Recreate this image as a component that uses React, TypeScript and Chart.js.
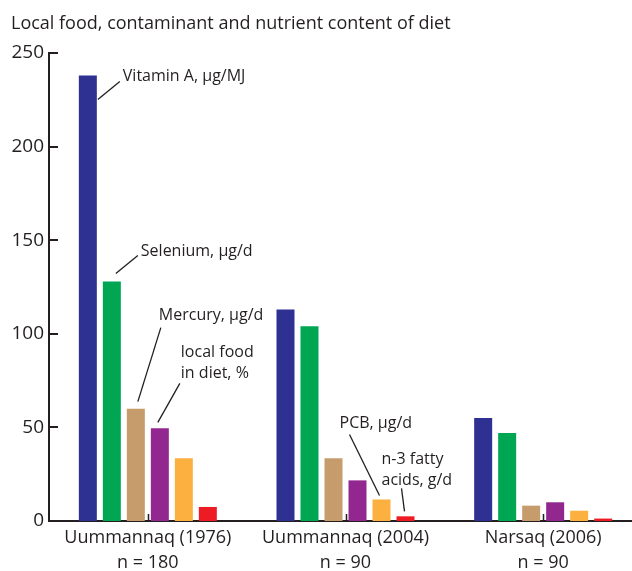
import { useEffect, useRef } from "react";
import { Chart, registerables } from "chart.js";

Chart.register(...registerables);

// ---- data ----
const categories: string[][] = [
  ["Uummannaq (1976)", "n = 180"],
  ["Uummannaq (2004)", "n = 90"],
  ["Narsaq (2006)", "n = 90"],
];
const seriesNames = [
  "Vitamin A, µg/MJ",
  "Selenium, µg/d",
  "Mercury, µg/d",
  "local food in diet, %",
  "PCB, µg/d",
  "n-3 fatty acids, g/d",
];
const vitaminA = [238, 113, 55];
const selenium = [128, 104, 47];
const mercury = [60, 33.5, 8.2];
const localFood = [49.5, 21.7, 10];
const pcb = [33.5, 11.5, 5.5];
const n3Fatty = [7.5, 2.5, 1.3];
const yTickValues = [0, 50, 100, 150, 200, 250];
const titleText = "Local food, contaminant and nutrient content of diet";

// ---- styles ----
const seriesColors = ["#2E3192", "#00A651", "#C69C6D", "#92278F", "#FBB040", "#ED1C24"];
const ink = "#231F20";
const fontFamily = "'Open Sans', 'Noto Sans', sans-serif";

// annotation callouts: anchored to a bar (dataset, category), offsets relative to bar centre/top
const callouts = [
  { ds: 0, cat: 0, lines: ["Vitamin A, µg/MJ"], from: [10, 24], to: [32, 6], text: [35, 1] },
  { ds: 1, cat: 0, lines: ["Selenium, µg/d"], from: [4, -8], to: [26, -26], text: [29, -30] },
  { ds: 2, cat: 0, lines: ["Mercury, µg/d"], from: [2, -7], to: [25, -81], text: [23, -93] },
  { ds: 3, cat: 0, lines: ["local food", "in diet, %"], from: [-2, -6], to: [20, -45], text: [21, -76] },
  { ds: 4, cat: 1, lines: ["PCB, µg/d"], from: [-2, -4], to: [-32, -65], text: [-42, -76] },
  { ds: 5, cat: 1, lines: ["n-3 fatty", "acids, g/d"], from: [-1, -5], to: [-4, -28], text: [-24, -57] },
];

const axisDecor = {
  id: "axisDecor",
  afterDraw(chart: any) {
    const ctx = chart.ctx;
    const area = chart.chartArea;
    const y = chart.scales.y;
    const x = chart.scales.x;
    ctx.save();
    ctx.strokeStyle = ink;
    ctx.lineWidth = 2;
    ctx.beginPath();
    y.ticks.forEach((t: any) => {
      const py = Math.round(y.getPixelForValue(t.value));
      if (t.value === 0) return;
      ctx.moveTo(area.left, py);
      ctx.lineTo(area.left + 9, py);
    });
    ctx.stroke();
    ctx.lineWidth = 1.5;
    ctx.beginPath();
    x.ticks.forEach((_t: any, i: number) => {
      const px = Math.round(x.getPixelForTick(i)) + 0.5;
      ctx.moveTo(px, area.bottom);
      ctx.lineTo(px, area.bottom - 7);
    });
    ctx.stroke();
    ctx.restore();
  },
};

const calloutPlugin = {
  id: "callouts",
  afterDatasetsDraw(chart: any) {
    const ctx = chart.ctx;
    ctx.save();
    ctx.strokeStyle = ink;
    ctx.fillStyle = ink;
    ctx.lineWidth = 1.3;
    ctx.font = `16px ${fontFamily}`;
    ctx.textBaseline = "middle";
    ctx.textAlign = "left";
    callouts.forEach((c) => {
      const bar = chart.getDatasetMeta(c.ds).data[c.cat];
      const bx = bar.x;
      const by = bar.y;
      ctx.beginPath();
      ctx.moveTo(bx + c.from[0], by + c.from[1]);
      ctx.lineTo(bx + c.to[0], by + c.to[1]);
      ctx.stroke();
      c.lines.forEach((ln, i) => {
        ctx.fillText(ln, bx + c.text[0], by + c.text[1] + i * 21);
      });
    });
    ctx.restore();
  },
};

export default function App() {
  const ref = useRef<HTMLCanvasElement | null>(null);

  useEffect(() => {
    if (!ref.current) return;
    const dataArrays = [vitaminA, selenium, mercury, localFood, pcb, n3Fatty];
    const chart = new Chart(ref.current, {
      type: "bar",
      data: {
        labels: categories,
        datasets: seriesNames.map((name, i) => ({
          label: name,
          data: dataArrays[i],
          backgroundColor: seriesColors[i],
          borderWidth: 0,
          categoryPercentage: 0.7285,
          barPercentage: 0.75,
        })),
      },
      options: {
        responsive: false,
        animation: false,
        layout: { padding: { left: 11, right: 0, top: 0, bottom: 0 } },
        plugins: {
          legend: { display: false },
          tooltip: { enabled: false },
          title: {
            display: true,
            text: titleText,
            align: "start",
            color: ink,
            font: { family: fontFamily, size: 18, weight: "normal", lineHeight: 1.2 },
            padding: { top: 13, bottom: 18.4 },
          },
        },
        scales: {
          x: {
            type: "category",
            offset: true,
            grid: { display: true, drawOnChartArea: false, drawTicks: false, lineWidth: 0 },
            border: { display: true, color: ink, width: 2 },
            ticks: {
              color: ink,
              padding: 4,
              maxRotation: 0,
              autoSkip: false,
              font: { family: fontFamily, size: 18, lineHeight: 25 / 18 },
            },
            afterFit: (s: any) => {
              s.height = 50;
            },
          },
          y: {
            min: 0,
            max: 250,
            afterBuildTicks: (s: any) => {
              s.ticks = yTickValues.map((v) => ({ value: v }));
            },
            grid: { display: true, drawOnChartArea: false, drawTicks: false, lineWidth: 0 },
            border: { display: true, color: ink, width: 2 },
            ticks: {
              color: ink,
              padding: 5,
              font: { family: fontFamily, size: 19 },
            },
            afterFit: (s: any) => {
              s.width = 38;
            },
          },
        },
      },
      plugins: [axisDecor, calloutPlugin],
    });
    return () => chart.destroy();
  }, []);

  return (
    <div
      style={{
        position: "absolute",
        left: 0,
        top: 0,
        width: 632,
        height: 571,
        overflow: "hidden",
        background: "#ffffff",
      }}
    >
      <canvas ref={ref} width={642} height={571} style={{ width: 642, height: 571, display: "block" }} />
    </div>
  );
}
